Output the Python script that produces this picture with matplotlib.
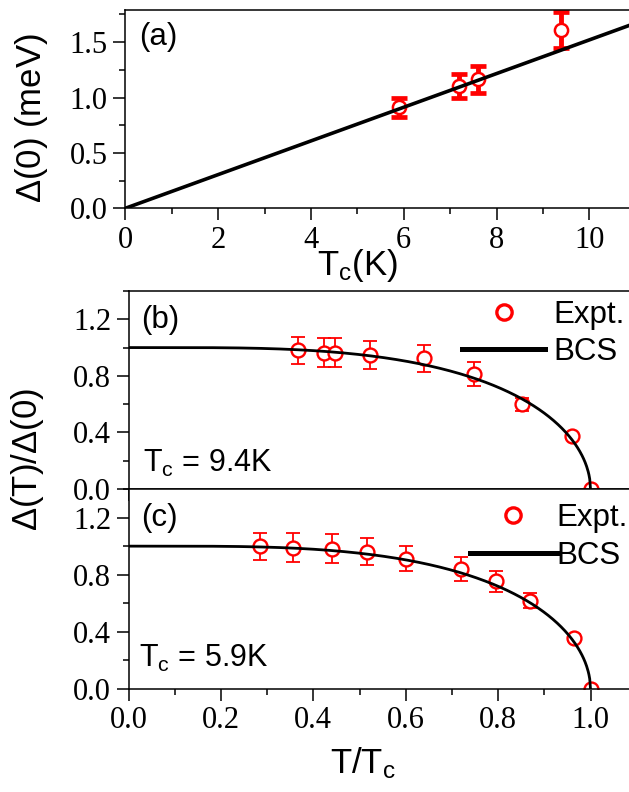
import numpy as np
import matplotlib
matplotlib.use("Agg")
import matplotlib.pyplot as plt
from matplotlib.lines import Line2D
from matplotlib.ticker import MultipleLocator

plt.rcParams['font.family'] = ['Liberation Serif', 'DejaVu Serif']
plt.rcParams['mathtext.fontset'] = 'custom'
plt.rcParams['mathtext.rm'] = 'Liberation Sans'
plt.rcParams['mathtext.it'] = 'Liberation Sans:italic'
plt.rcParams['axes.linewidth'] = 1.1

# ---- data ----
# (a) gap vs Tc
a_tc = [5.9, 7.2, 7.6, 9.4]
a_gap = [0.91, 1.105, 1.165, 1.61]
a_err = [0.09, 0.11, 0.12, 0.16]
a_slope = 0.152            # BCS: 1.764 k_B Tc  (meV/K)
a_line_x = [0.0, 11.0]

# (b) Tc = 9.4 K
b_t = [0.367, 0.424, 0.446, 0.523, 0.640, 0.748, 0.852, 0.961, 1.0]
b_gap = [0.98, 0.965, 0.965, 0.95, 0.925, 0.815, 0.60, 0.375, 0.0]
b_err = [0.095, 0.10, 0.10, 0.10, 0.095, 0.085, 0.045, 0.02, 0.0]

# (c) Tc = 5.9 K
c_t = [0.285, 0.355, 0.44, 0.517, 0.60, 0.719, 0.795, 0.87, 0.965, 1.0]
c_gap = [1.0, 0.99, 0.983, 0.96, 0.913, 0.842, 0.753, 0.619, 0.36, 0.0]
c_err = [0.095, 0.10, 0.10, 0.095, 0.09, 0.085, 0.075, 0.05, 0.025, 0.0]

# BCS temperature dependence
bcs_t = np.linspace(1e-3, 1.0, 600)
bcs_gap = np.tanh(1.82 * (1.018 * (1.0 / bcs_t - 1.0)) ** 0.51)

SANS = 'Liberation Sans'
RED = '#ff0000'

W, H = 629, 792
fig = plt.figure(figsize=(W / 100, H / 100), dpi=100)
fig.patch.set_facecolor('white')

axA = fig.add_axes([125.3 / W, 1 - 208.3 / H, 11 * 46.4 / W, 198.3 / H])
axB = fig.add_axes([128.5 / W, 1 - 489 / H, 1.1 * 462 / W, 198 / H])
axC = fig.add_axes([128.5 / W, 1 - 689 / H, 1.1 * 462 / W, 200 / H])

for ax in (axA, axB, axC):
    ax.tick_params(which='major', direction='out', length=8.6, width=1.1,
                   labelsize=22, pad=4, top=False, right=False)
    ax.tick_params(which='minor', direction='out', length=4.3, width=1.1,
                   top=False, right=False)

# ---- panel (a) ----
axA.plot(a_line_x, [a_slope * x for x in a_line_x], color='k', lw=2.6, zorder=3)
axA.errorbar(a_tc, a_gap, yerr=a_err, fmt='none', ecolor=RED, elinewidth=3.5,
             capsize=5.5, capthick=3.4, zorder=2)
axA.plot(a_tc, a_gap, ls='none', marker='o', ms=9.5, mfc='white', mec=RED,
         mew=1.8, zorder=2.5)
axA.set_xlim(0, 11)
axA.set_ylim(0, 1.79)
axA.xaxis.set_major_locator(MultipleLocator(2))
axA.xaxis.set_minor_locator(MultipleLocator(1))
axA.yaxis.set_major_locator(MultipleLocator(0.5))
axA.yaxis.set_minor_locator(MultipleLocator(0.25))
axA.text(0.027, 0.94, '(a)', transform=axA.transAxes, family=SANS, size=22.5,
         va='top', ha='left')


def panel(ax, t, gap, err, letter, tc_text, tc_xy, leg_xy, hl, htp, ls):
    ax.plot(bcs_t, bcs_gap, color='k', lw=2.0, zorder=3)
    ax.plot([0, bcs_t[0]], [bcs_gap[0], bcs_gap[0]], color='k', lw=2.0, zorder=3)
    tt = [x for x, e in zip(t, err) if e > 0]
    gg = [g for g, e in zip(gap, err) if e > 0]
    ee = [e for e in err if e > 0]
    ax.errorbar(tt, gg, yerr=ee, fmt='none', ecolor=RED, elinewidth=1.3,
                capsize=5, capthick=1.3, zorder=2)
    ax.plot(t, gap, ls='none', marker='o', ms=10, mfc='white', mec=RED,
            mew=1.7, zorder=2.5)
    ax.set_xlim(0, 1.1)
    ax.set_ylim(0, 1.4)
    ax.xaxis.set_major_locator(MultipleLocator(0.2))
    ax.xaxis.set_minor_locator(MultipleLocator(0.1))
    ax.yaxis.set_major_locator(MultipleLocator(0.4))
    ax.yaxis.set_minor_locator(MultipleLocator(0.2))
    ax.text(0.024, 0.93, letter, transform=ax.transAxes, family=SANS, size=22.5,
            va='top', ha='left')
    ax.text(tc_xy[0], tc_xy[1], tc_text, family=SANS, size=22, va='baseline', ha='left')
    handles = [Line2D([], [], ls='none', marker='o', ms=11, mfc='none', mec=RED, mew=2.4),
               Line2D([], [], color='k', lw=3.6)]
    ax.legend(handles, ['Expt.', 'BCS'], loc='upper left', bbox_to_anchor=leg_xy,
              bbox_transform=ax.transData, frameon=False, borderpad=0,
              borderaxespad=0, handlelength=hl, handletextpad=htp,
              labelspacing=ls, prop={'family': SANS, 'size': 22.5})


panel(axB, b_t, b_gap, b_err, '(b)', r'T$_\mathregular{c}$ = 9.4K', (0.031, 0.12),
      (0.722, 1.337), 2.66, 0.26, 0.23)
panel(axC, c_t, c_gap, c_err, '(c)', r'T$_\mathregular{c}$ = 5.9K', (0.022, 0.154),
      (0.739, 1.302), 2.78, 0.0, 0.26)
axB.tick_params(labelbottom=False)

# ---- axis labels ----
fig.text(31 / W, 1 - 118 / H, r'$\Delta$(0) (meV)', family=SANS, size=25,
         rotation=90, ha='center', va='center')
fig.text(28 / W, 1 - 460 / H, r'$\Delta$(T)/$\Delta$(0)', family=SANS, size=25,
         rotation=90, ha='center', va='center')
fig.text(357 / W, 1 - 275 / H, r'T$_\mathregular{c}$(K)', family=SANS, size=25,
         ha='center', va='baseline')
fig.text(363 / W, 1 - 773 / H, r'T/T$_\mathregular{c}$', family=SANS, size=25,
         ha='center', va='baseline')

fig.savefig('out.png', dpi=100)
